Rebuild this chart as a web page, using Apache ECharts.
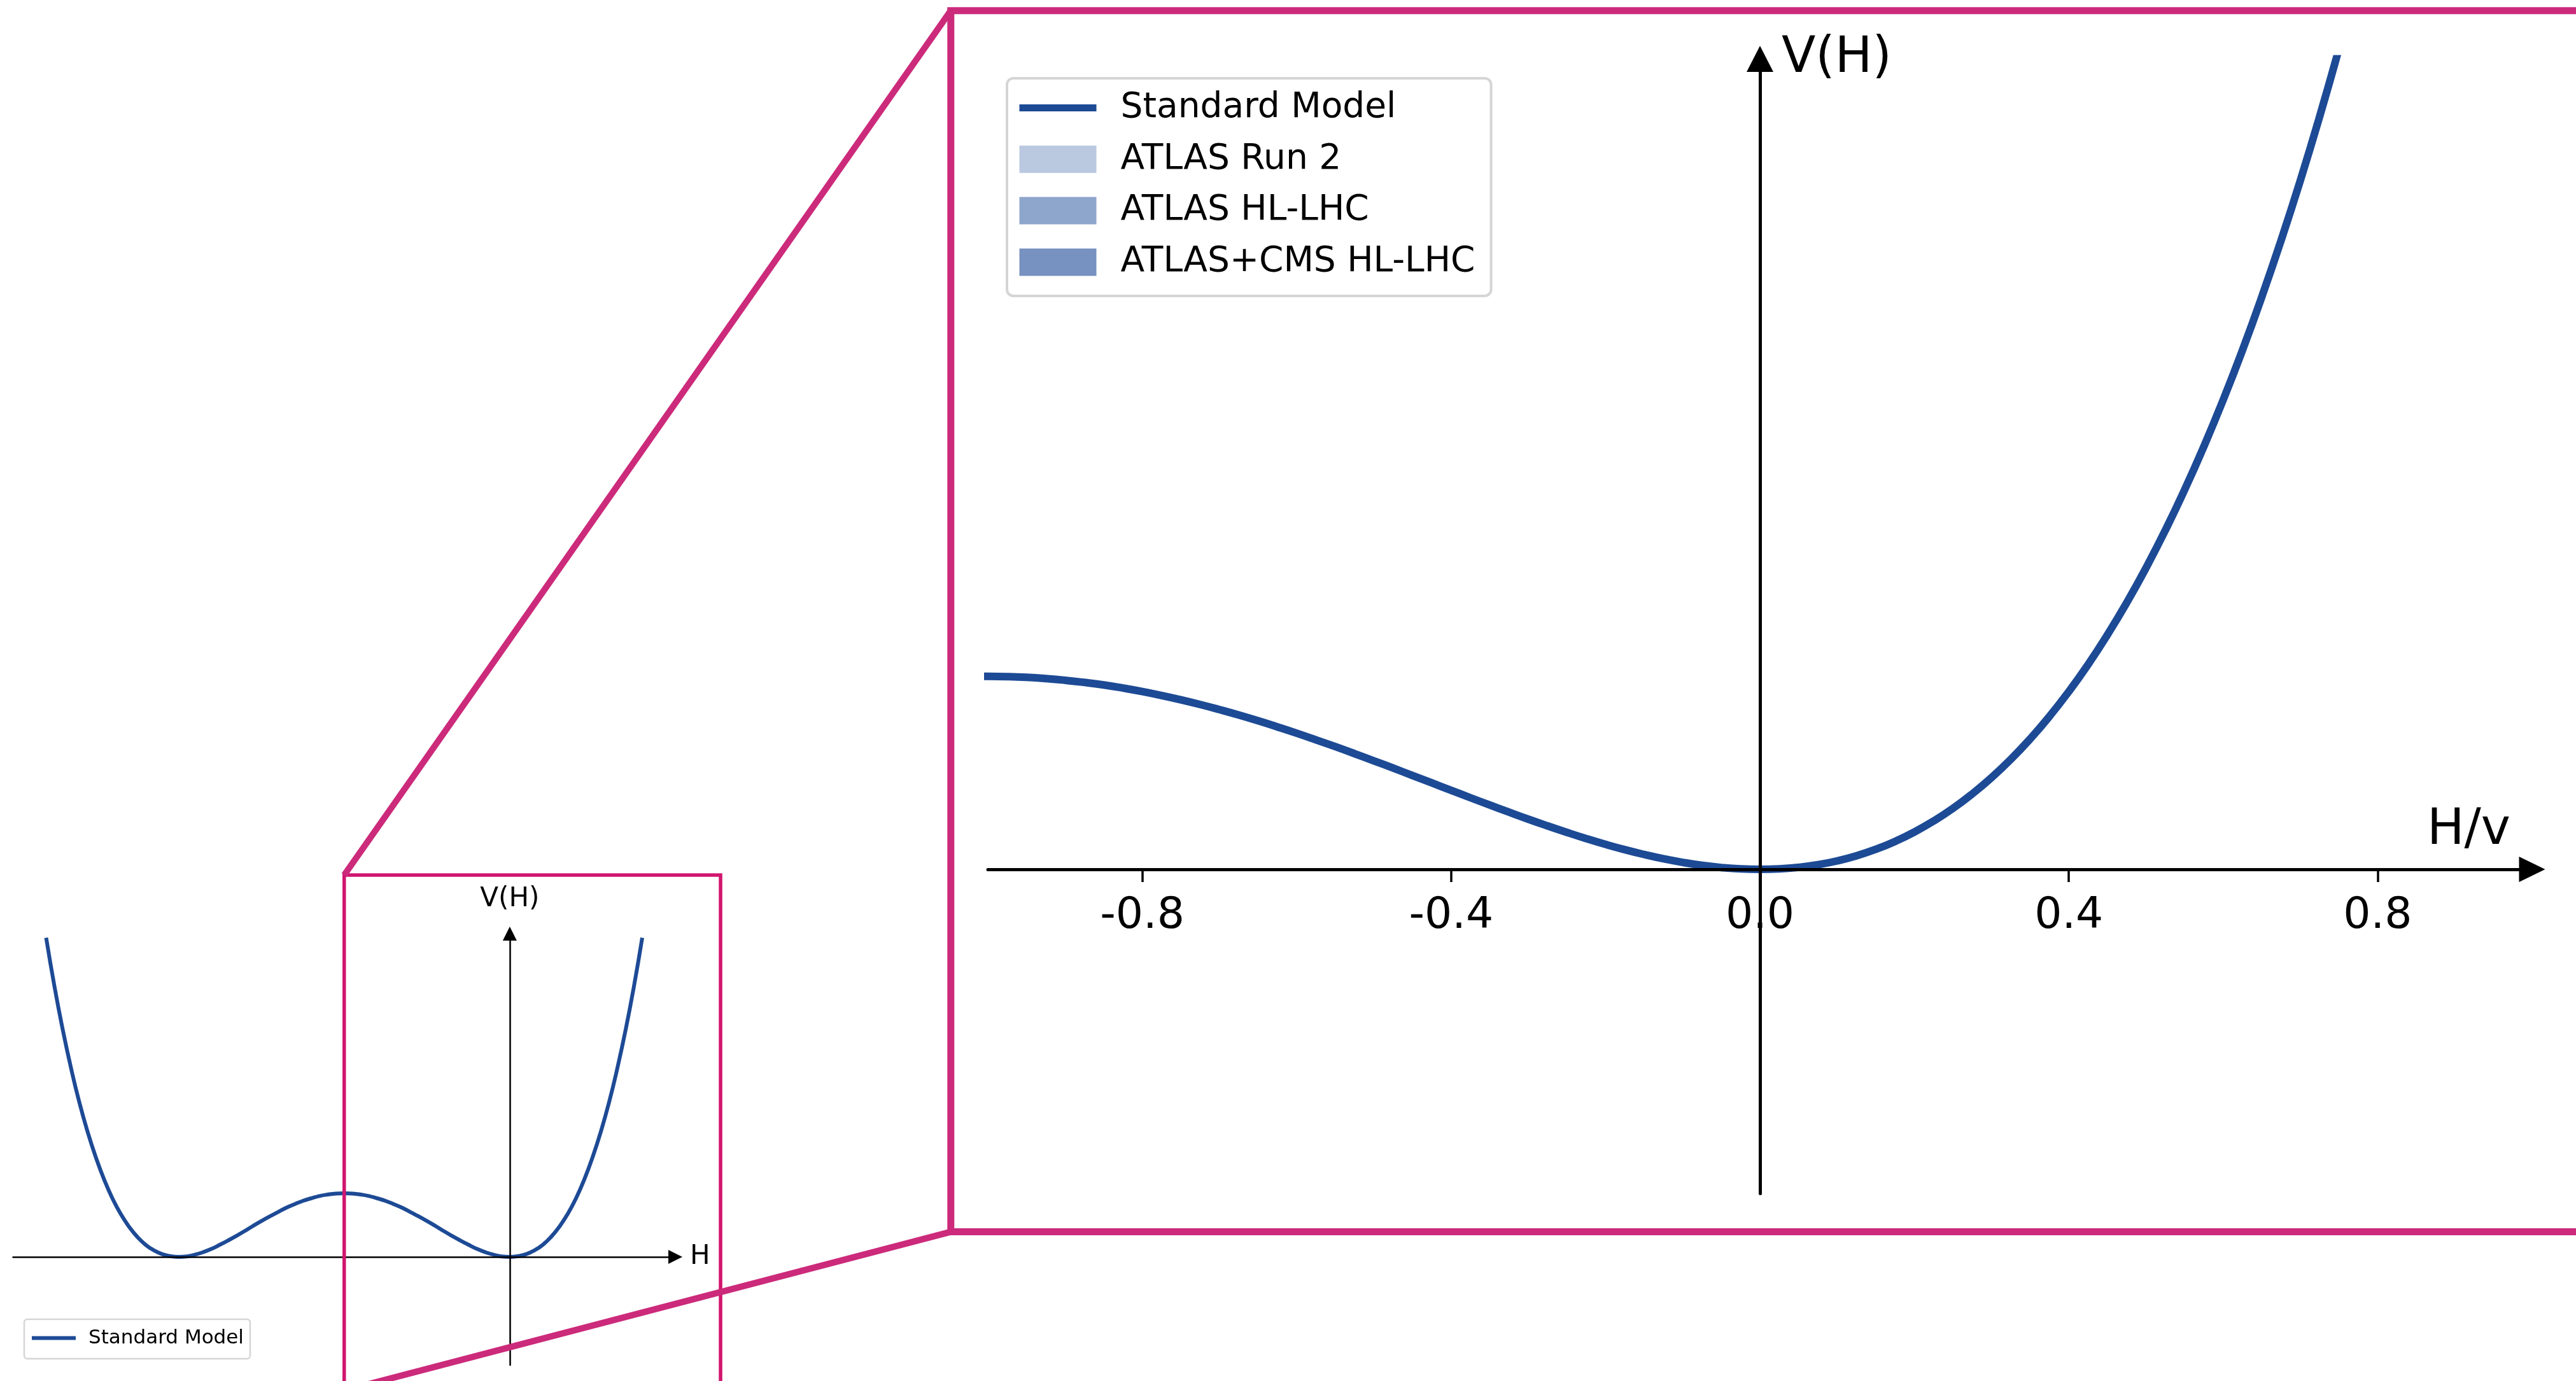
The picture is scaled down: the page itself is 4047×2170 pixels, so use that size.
<!DOCTYPE html>
<html>
<head>
<meta charset="utf-8">
<script src="https://cdn.jsdelivr.net/npm/echarts@6/dist/echarts.min.js"></script>
<style>
html,body{margin:0;padding:0;background:#ffffff;}
#chart{width:4047px;height:2170px;}
</style>
</head>
<body>
<div id="chart"></div>
<script>
// ---- data ----
// overview panel (full double-well curve)
const hValues = [-2.80,-2.75,-2.70,-2.65,-2.60,-2.55,-2.50,-2.45,-2.40,-2.35,-2.30,-2.25,-2.20,-2.15,-2.10,-2.05,
  -2.00,-1.95,-1.90,-1.85,-1.80,-1.75,-1.70,-1.65,-1.60,-1.55,-1.50,-1.45,-1.40,-1.35,-1.30,-1.25,-1.20,-1.15,-1.10,-1.05,
  -1.00,-0.95,-0.90,-0.85,-0.80,-0.75,-0.70,-0.65,-0.60,-0.55,-0.50,-0.45,-0.40,-0.35,-0.30,-0.25,-0.20,-0.15,-0.10,-0.05,
  0.00,0.05,0.10,0.15,0.20,0.25,0.30,0.35,0.40,0.45,0.50,0.55,0.60,0.65,0.70,0.75,0.80];
const vValues = [1.254,1.063,0.893,0.742,0.608,0.492,0.391,0.304,0.230,0.169,0.119,0.079,0.048,0.026,0.011,0.003,
  0.000,0.002,0.009,0.019,0.032,0.048,0.065,0.083,0.102,0.122,0.141,0.159,0.176,0.193,0.207,0.220,0.230,0.239,0.245,0.249,
  0.250,0.249,0.245,0.239,0.230,0.220,0.207,0.193,0.176,0.159,0.141,0.122,0.102,0.083,0.065,0.048,0.032,0.019,0.009,0.002,
  0.000,0.003,0.011,0.026,0.048,0.079,0.119,0.169,0.230,0.304,0.391,0.492,0.608,0.742,0.893,1.063,1.254];
// zoomed panel (H/v from -1.05 to 0.80)
const zoomH = [-1.050,-1.025,-1.000,-0.975,-0.950,-0.925,-0.900,-0.875,-0.850,-0.825,-0.800,-0.775,-0.750,-0.725,-0.700,
  -0.675,-0.650,-0.625,-0.600,-0.575,-0.550,-0.525,-0.500,-0.475,-0.450,-0.425,-0.400,-0.375,-0.350,-0.325,-0.300,-0.275,
  -0.250,-0.225,-0.200,-0.175,-0.150,-0.125,-0.100,-0.075,-0.050,-0.025,0.000,0.025,0.050,0.075,0.100,0.125,0.150,0.175,
  0.200,0.225,0.250,0.275,0.300,0.325,0.350,0.375,0.400,0.425,0.450,0.475,0.500,0.525,0.550,0.575,0.600,0.625,0.650,
  0.675,0.700,0.725,0.750,0.775,0.800];
const zoomV = [0.2488,0.2497,0.2500,0.2497,0.2488,0.2472,0.2450,0.2422,0.2389,0.2349,0.2304,0.2253,0.2197,0.2136,0.2070,
  0.2000,0.1925,0.1846,0.1764,0.1678,0.1590,0.1499,0.1406,0.1312,0.1216,0.1120,0.1024,0.0928,0.0834,0.0741,0.0650,0.0563,
  0.0479,0.0399,0.0324,0.0255,0.0193,0.0137,0.0090,0.0052,0.0024,0.0006,0.0000,0.0006,0.0026,0.0061,0.0110,0.0176,0.0260,
  0.0362,0.0484,0.0627,0.0791,0.0979,0.1190,0.1427,0.1691,0.1983,0.2304,0.2655,0.3039,0.3455,0.3906,0.4393,0.4918,
  0.5481,0.6084,0.6729,0.7418,0.8151,0.8930,0.9758,1.0635,1.1563,1.2544];
const seriesNames = ['Standard Model', 'ATLAS Run 2', 'ATLAS HL-LHC', 'ATLAS+CMS HL-LHC'];
const tickValues = [-0.8, -0.4, 0, 0.4, 0.8];
const tickLabels = ['-0.8', '-0.4', '0.0', '0.4', '0.8'];
const axisNames = {overviewX: 'H', overviewY: 'V(H)', zoomX: 'H/v', zoomY: 'V(H)'};

// ---- annotation frames in data units ----
const smallBox = {x0: -1.0, x1: 1.273, y0: -0.525, y1: 1.5};
const mainFrame = {x0: -1.048, x1: 1.12, y0: -0.4695, y1: 1.1125};

// ---- styles ----
const FONT = '"DejaVu Sans", "Liberation Sans", sans-serif';
const SM_COLOR = '#1d4a95';
const BAND_COLORS = ['#bac8e0', '#8ea6cb', '#7791c0'];
const MAGENTA = '#cc2a7b';
const MAGENTA_BOX = '#d1166f';

const overviewCurve = hValues.map((h, i) => [h, vValues[i]]);
const zoomCurve = zoomH.map((h, i) => [h, zoomV[i]]);

const chart = echarts.init(document.getElementById('chart'), null, {renderer: 'canvas', width: 4047, height: 2170});

function fmtTick(v) {
  const i = tickValues.findIndex(t => Math.abs(t - v) < 1e-9);
  return i >= 0 ? tickLabels[i] : '';
}

const option = {
  animation: false,
  backgroundColor: '#ffffff',
  grid: [
    {left: 20.5, top: 1467, width: 1040.5, height: 678},
    {left: 1552, top: 92.5, width: 2426, height: 1783}
  ],
  xAxis: [
    {
      gridIndex: 0, type: 'value', min: -3, max: 1, z: 5,
      axisLine: {show: true, onZero: true, symbol: ['none', 'triangle'], symbolSize: [22, 22],
        lineStyle: {color: '#000', width: 2.5}},
      axisTick: {show: false}, axisLabel: {show: false}, splitLine: {show: false},
      name: axisNames.overviewX, nameLocation: 'end', nameGap: 23,
      nameTextStyle: {fontFamily: FONT, fontSize: 42, color: '#000', align: 'left', verticalAlign: 'middle'}
    },
    {
      gridIndex: 1, type: 'value', min: -1, max: 1, z: 5,
      axisLine: {show: true, onZero: true, symbol: ['none', 'triangle'], symbolSize: [40, 41],
        lineStyle: {color: '#000', width: 5}},
      axisTick: {show: true, inside: false, length: 20, customValues: tickValues,
        lineStyle: {color: '#000', width: 3.5}},
      axisLabel: {show: true, customValues: tickValues, formatter: fmtTick, margin: 40,
        fontFamily: FONT, fontSize: 68, color: '#000'},
      splitLine: {show: false},
      name: axisNames.zoomX, nameLocation: 'end', nameGap: 0,
      nameTextStyle: {fontFamily: FONT, fontSize: 78, color: '#000', align: 'right', verticalAlign: 'bottom',
        lineHeight: 121, padding: [0, 34, 0, 0]}
    }
  ],
  yAxis: [
    {
      gridIndex: 0, type: 'value', min: -0.425, max: 1.27, z: 5,
      axisLine: {show: true, onZero: true, symbol: ['none', 'triangle'], symbolSize: [22, 22],
        lineStyle: {color: '#000', width: 2.5}},
      axisTick: {show: false}, axisLabel: {show: false}, splitLine: {show: false},
      name: axisNames.overviewY, nameLocation: 'end', nameGap: 33,
      nameTextStyle: {fontFamily: FONT, fontSize: 42, color: '#000'}
    },
    {
      gridIndex: 1, type: 'value', min: -0.42, max: 1.05, z: 5,
      axisLine: {show: true, onZero: true, symbol: ['none', 'triangle'], symbolSize: [42, 41],
        lineStyle: {color: '#000', width: 5}},
      axisTick: {show: false}, axisLabel: {show: false}, splitLine: {show: false},
      name: axisNames.zoomY, nameLocation: 'end', nameGap: 0,
      nameTextStyle: {fontFamily: FONT, fontSize: 78, color: '#000', align: 'left', verticalAlign: 'middle',
        padding: [0, 0, 0, 34]}
    }
  ],
  legend: [
    {
      left: 38, top: 2073, orient: 'vertical', selectedMode: false,
      data: [{name: seriesNames[0], itemStyle: {opacity: 0}}],
      itemWidth: 69, itemHeight: 20, padding: [14, 10, 17, 9],
      backgroundColor: '#ffffff', borderColor: '#d5d5d5', borderWidth: 2.5, borderRadius: 5,
      lineStyle: {width: 6},
      textStyle: {fontFamily: FONT, fontSize: 31, color: '#000', lineHeight: 20, padding: [0, 0, 0, 15]}
    },
    {
      left: 1582, top: 123, orient: 'vertical', selectedMode: false,
      data: [
        {name: seriesNames[0], itemStyle: {opacity: 0}},
        {name: seriesNames[1], icon: 'rect'},
        {name: seriesNames[2], icon: 'rect'},
        {name: seriesNames[3], icon: 'rect'}
      ],
      itemWidth: 121, itemHeight: 43, itemGap: 25.8, padding: [19, 25, 25.5, 14],
      backgroundColor: '#ffffff', borderColor: '#d5d5d5', borderWidth: 4, borderRadius: 10,
      lineStyle: {width: 11},
      textStyle: {fontFamily: FONT, fontSize: 55, color: '#000', padding: [0, 0, 0, 33]}
    }
  ],
  series: [
    {
      name: seriesNames[0], type: 'line', xAxisIndex: 0, yAxisIndex: 0, data: overviewCurve,
      symbol: 'none', showSymbol: false, smooth: true, clip: true, z: 2,
      lineStyle: {color: SM_COLOR, width: 6}, itemStyle: {color: SM_COLOR}
    },
    {
      name: seriesNames[0], type: 'line', xAxisIndex: 1, yAxisIndex: 1, data: zoomCurve,
      symbol: 'none', showSymbol: false, smooth: true, clip: true, z: 2,
      lineStyle: {color: SM_COLOR, width: 12}, itemStyle: {color: SM_COLOR}
    },
    {name: seriesNames[1], type: 'scatter', xAxisIndex: 1, yAxisIndex: 1, data: [], itemStyle: {color: BAND_COLORS[0], opacity: 1}},
    {name: seriesNames[2], type: 'scatter', xAxisIndex: 1, yAxisIndex: 1, data: [], itemStyle: {color: BAND_COLORS[1], opacity: 1}},
    {name: seriesNames[3], type: 'scatter', xAxisIndex: 1, yAxisIndex: 1, data: [], itemStyle: {color: BAND_COLORS[2], opacity: 1}}
  ]
};

chart.setOption(option);

// place the zoomed x axis (with its ticks and labels) on V = 0 by offsetting it from the grid bottom
const yZero = chart.convertToPixel({gridIndex: 1}, [0, 0])[1];
const yBottom = chart.convertToPixel({gridIndex: 1}, [0, option.yAxis[1].min])[1];
chart.setOption({xAxis: [{}, {axisLine: {onZero: false}, offset: yZero - yBottom}]});

const px = (g, pt) => chart.convertToPixel({gridIndex: g}, pt);
const sTL = px(0, [smallBox.x0, smallBox.y1]);
const sBR = px(0, [smallBox.x1, smallBox.y0]);
const mTL = px(1, [mainFrame.x0, mainFrame.y1]);
const mBR = px(1, [mainFrame.x1, mainFrame.y0]);

chart.setOption({
  graphic: [
    {type: 'rect', z: 100, silent: true,
      shape: {x: sTL[0], y: sTL[1], width: sBR[0] - sTL[0], height: sBR[1] - sTL[1]},
      style: {fill: 'none', stroke: MAGENTA_BOX, lineWidth: 5.5}},
    {type: 'rect', z: 100, silent: true,
      shape: {x: mTL[0], y: mTL[1], width: mBR[0] - mTL[0], height: mBR[1] - mTL[1]},
      style: {fill: 'none', stroke: MAGENTA, lineWidth: 11}},
    {type: 'line', z: 101, silent: true,
      shape: {x1: sTL[0], y1: sTL[1], x2: mTL[0], y2: mTL[1]},
      style: {stroke: MAGENTA, lineWidth: 10}},
    {type: 'line', z: 101, silent: true,
      shape: {x1: sTL[0], y1: sBR[1], x2: mTL[0], y2: mBR[1]},
      style: {stroke: MAGENTA, lineWidth: 10}}
  ]
});
</script>
</body>
</html>
